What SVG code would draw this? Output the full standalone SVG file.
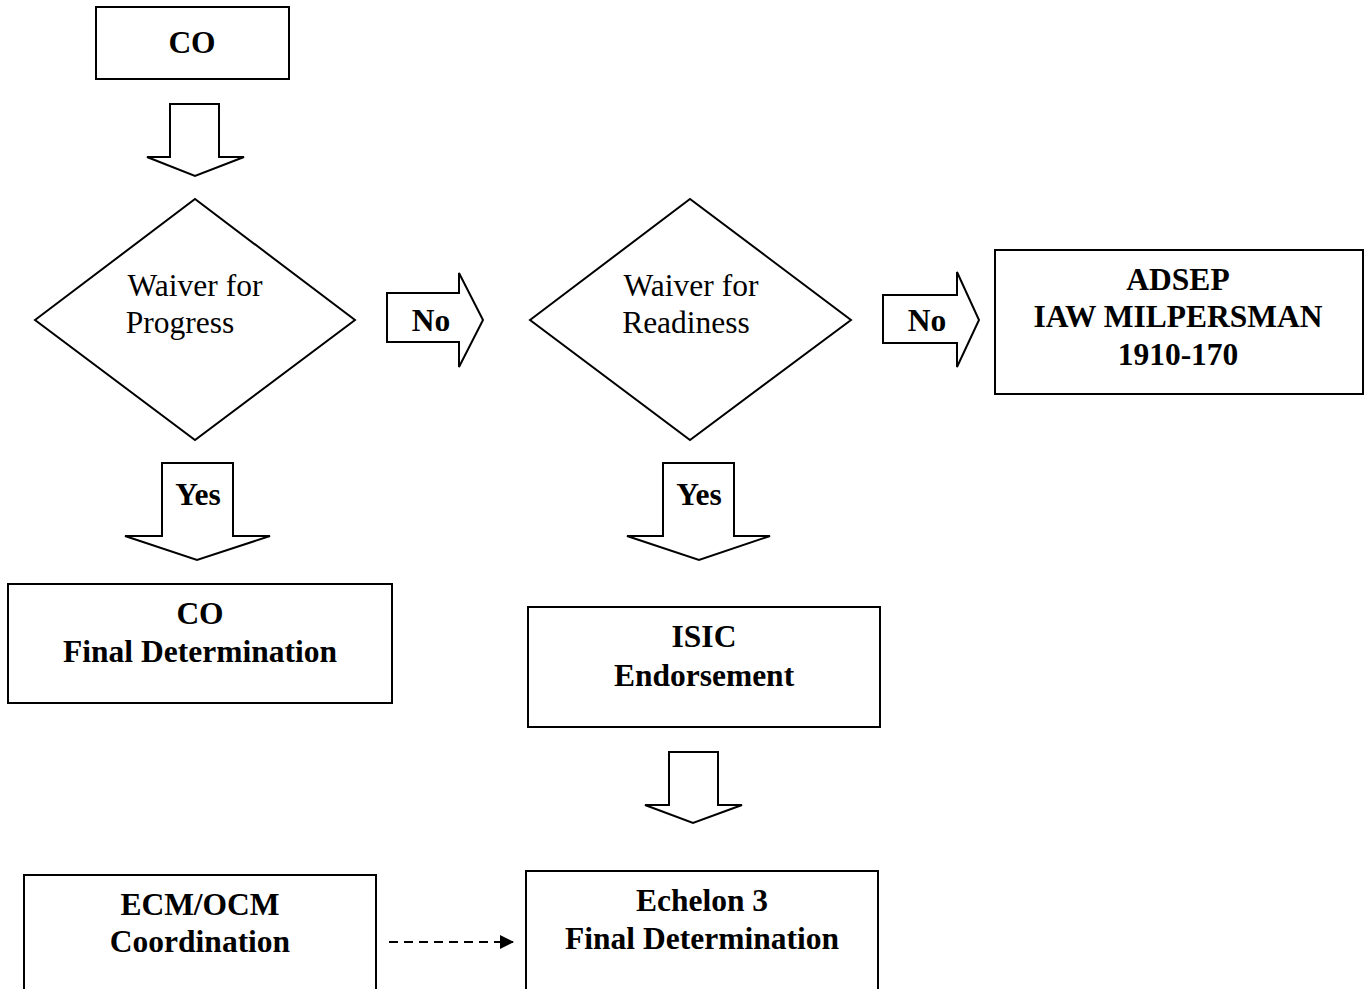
<svg xmlns="http://www.w3.org/2000/svg" width="1370" height="989" viewBox="0 0 1370 989">
<defs>
<style>
.s{fill:#fff;stroke:#000;stroke-width:2}
.b{font-family:"Liberation Serif","Times New Roman",serif;font-weight:bold;font-size:31.5px;text-anchor:middle;fill:#000}
.r{font-family:"Liberation Serif","Times New Roman",serif;font-size:31.5px;text-anchor:middle;fill:#000}
</style>
<marker id="ah" markerWidth="14" markerHeight="14" refX="13" refY="7" orient="auto" markerUnits="userSpaceOnUse">
<path d="M0,0 L14,7 L0,14 Z" fill="#000"/>
</marker>
</defs>
<rect width="1370" height="989" fill="#fff"/>
<g id="co">
<rect class="s" x="96" y="7" width="193" height="72"/>
<text class="b" x="192" y="53">CO</text>
</g>
<g id="waiver-progress">
<polygon class="s" points="35,320 195,199 355,320 195,440"/>
<text class="r" x="195" y="296">Waiver for</text>
<text class="r" x="180" y="333">Progress</text>
</g>
<g id="waiver-readiness">
<polygon class="s" points="530,320 690,199 851,320 690,440"/>
<text class="r" x="691" y="296">Waiver for</text>
<text class="r" x="686" y="333">Readiness</text>
</g>
<g id="adsep">
<rect class="s" x="995" y="250" width="368" height="144"/>
<text class="b" x="1178" y="290">ADSEP</text>
<text class="b" x="1178" y="327">IAW MILPERSMAN</text>
<text class="b" x="1178" y="365">1910-170</text>
</g>
<g id="co-final">
<rect class="s" x="8" y="584" width="384" height="119"/>
<text class="b" x="200" y="624">CO</text>
<text class="b" x="200" y="662">Final Determination</text>
</g>
<g id="isic">
<rect class="s" x="528" y="607" width="352" height="120"/>
<text class="b" x="704" y="647">ISIC</text>
<text class="b" x="704" y="686">Endorsement</text>
</g>
<g id="ecm">
<rect class="s" x="24" y="875" width="352" height="130"/>
<text class="b" x="200" y="915">ECM/OCM</text>
<text class="b" x="200" y="952">Coordination</text>
</g>
<g id="echelon">
<rect class="s" x="526" y="871" width="352" height="134"/>
<text class="b" x="702" y="911">Echelon 3</text>
<text class="b" x="702" y="949">Final Determination</text>
</g>
<g id="connectors">
<polygon class="s" points="170,104 219,104 219,157 244,157 195,176 147,157 170,157"/>
<polygon class="s" points="387,293 459,293 459,273 483,320 459,367 459,342 387,342"/>
<text class="b" x="431" y="331">No</text>
<polygon class="s" points="883,295 957,295 957,272 979,320 957,367 957,343 883,343"/>
<text class="b" x="927" y="331">No</text>
<polygon class="s" points="162,463 233,463 233,536 270,536 197,560 125,536 162,536"/>
<text class="b" x="198" y="505">Yes</text>
<polygon class="s" points="663,463 734,463 734,536 770,536 699,560 627,536 663,536"/>
<text class="b" x="699" y="505">Yes</text>
<polygon class="s" points="669,752 718,752 718,805 742,805 693,823 645,805 669,805"/>
<line x1="389" y1="942" x2="513" y2="942" stroke="#000" stroke-width="2.2" stroke-dasharray="9,6" marker-end="url(#ah)"/>
</g>
</svg>
